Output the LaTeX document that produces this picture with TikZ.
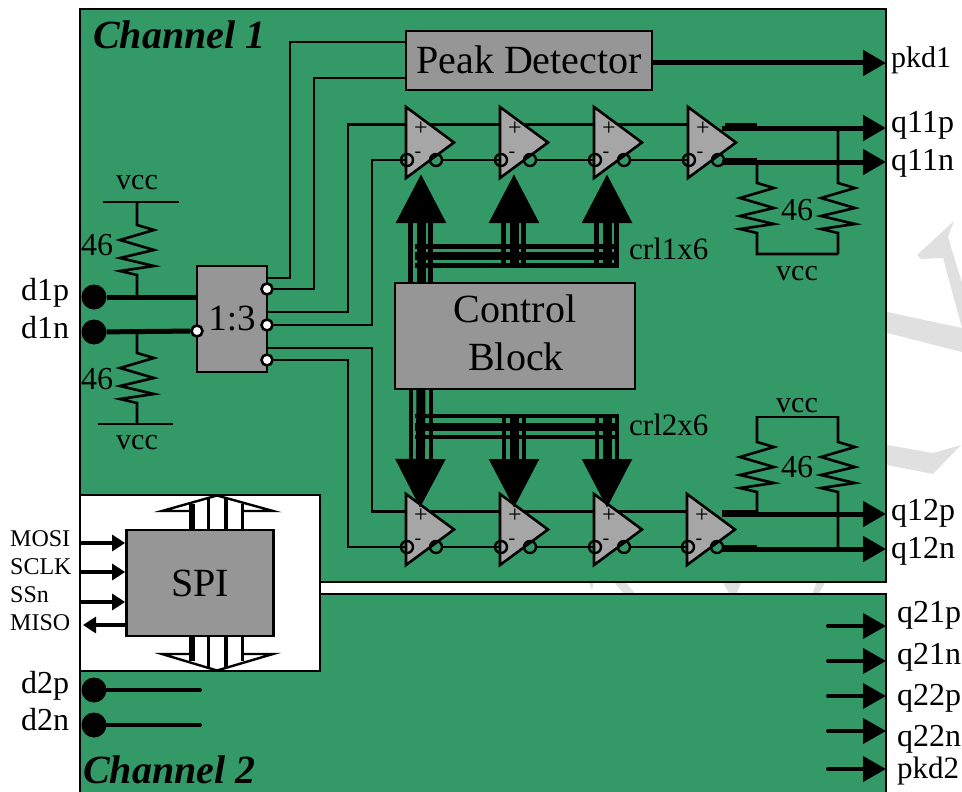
\documentclass[tikz,border=0pt]{standalone}
\usepackage{fontspec}
\setmainfont{Liberation Serif}
\usetikzlibrary{arrows.meta,calc}
\definecolor{chgreen}{RGB}{51,153,102}
\definecolor{blockgray}{RGB}{150,150,150}
\definecolor{ampgray}{RGB}{166,166,166}
\definecolor{markgray}{RGB}{224,224,224}
\newcommand{\sz}[1]{\fontsize{#1}{#1}\selectfont}
\tikzset{
    wire/.style={line width=2.6pt,line join=miter},
    thickwire/.style={line width=5pt},
    block/.style={draw,line width=2.8pt,fill=blockgray,inner sep=0pt},
    lbl/.style={anchor=base west,inner sep=0pt,text=black},
    bubble/.style={circle,draw,line width=2.6pt,fill=white,inner sep=0pt,minimum size=11pt},
    obubble/.style={circle,draw,line width=2.4pt,inner sep=0pt,minimum size=12pt},
    pad/.style={circle,fill=black,inner sep=0pt,minimum size=25pt},
    bigarrow/.style={line width=9pt,-{Triangle[length=49pt,width=48pt]}},
    outarrow/.style={line width=5pt,-{Triangle[length=23pt,width=25pt]}},
    spiarrow/.style={line width=4pt,-{Triangle[length=13pt,width=16pt]}},
}
% one zigzag of a resistor, 50 high
\newcommand{\zz}{-- ++(17,5) -- ++(-34,10) -- ++(34,10) -- ++(-34,8) -- ++(34,8) -- ++(-34,5) -- ++(17,4)}
% amplifier: name, x of left side, y of top corner
\newcommand{\ampl}[3]{
    \draw[line width=2.6pt,fill=ampgray,line join=miter] (#2,#3) -- ++(0,71) -- ++(48,-35.5) -- cycle;
    \node[inner sep=0pt] (#1plus) at (#2+15,#3+22) {\sz{24}+};
    \node[inner sep=0pt] (#1minus) at (#2+12,#3+48) {\sz{20}-};
    \node[obubble] (#1in) at (#2+1,#3+53) {};
    \node[obubble] (#1out) at (#2+30,#3+53) {};
    \coordinate (#1ip) at (#2,#3+17.5);
    \coordinate (#1op) at (#2+24,#3+17.5);
}
\begin{document}
\begin{tikzpicture}[x=1pt,y=-1pt]
    \useasboundingbox (0,0) rectangle (962,792);
    % watermark
    \fill[markgray] (917,255)--(954,221)--(948,237)--(962,283)--(962,328)--(943,258)--(921,259)--cycle;
    \fill[markgray] (887,312)--(962,328)--(962,352)--(887,333)--cycle;
    \fill[markgray] (887,445)--(933,453)--(961,445)--(933,474)--(887,465)--cycle;
    \fill[markgray] (588,581)--(594,581)--(592,590)--cycle;
    \fill[markgray] (613,581)--(625,581)--(636,595)--(625,595)--cycle;
    \fill[markgray] (722,581)--(742,581)--(736,595)--(730,595)--cycle;
    \fill[markgray] (817,581)--(826,581)--(818,595)--(812,595)--cycle;
    % channels
    \draw[line width=2.8pt,fill=chgreen] (80,9) rectangle (886,582);
    \path[fill=chgreen] (80,594) rectangle (886,792);
    \draw[line width=2.8pt] (80,792) -- (80,594) -- (886,594) -- (886,792);
    \draw[line width=2.8pt,fill=white] (80,495) rectangle (320,671);
    \node[lbl] (ch1) at (93,49) {\sz{40}\bfseries\itshape Channel 1};
    \node[lbl] (ch2) at (83,783) {\sz{40}\bfseries\itshape Channel 2};
    % blocks
    \node[block,minimum width=246pt,minimum height=59pt] (pd) at (529,60.5) {\raisebox{2pt}{\sz{40}Peak Detector}};
    \node[block,minimum width=70pt,minimum height=106pt] (split) at (232,319) {\sz{37}1:3};
    \node[block,minimum width=240pt,minimum height=106pt] (ctrl) at (515,336) {};
    \node[inner sep=0pt,anchor=base] (ctrla) at (515,322) {\sz{40}Control};
    \node[inner sep=0pt,anchor=base] (ctrlb) at (516,370) {\sz{40}Block};
    \node[block,minimum width=147pt,minimum height=106pt] (spi) at (200,583) {\sz{40}SPI};
    % splitter outputs
    \node[bubble] (sp1) at (267,289) {};
    \node[bubble] (sp2) at (267,325) {};
    \node[bubble] (sp3) at (267,360) {};
    \node[bubble] (sn) at (197,331) {};
    % amplifiers
    \ampl{a}{406}{107}
    \ampl{b}{500}{107}
    \ampl{c}{594}{107}
    \ampl{d}{688}{107}
    \ampl{e}{406}{494}
    \ampl{f}{500}{494}
    \ampl{g}{594}{494}
    \ampl{h}{687}{494}
    % wires between the stages
    \draw[wire] (aop) -- (bip);
    \draw[wire] (aout) -- (bin.center);
    \draw[wire] (bop) -- (cip);
    \draw[wire] (bout) -- (cin.center);
    \draw[wire] (cop) -- (dip);
    \draw[wire] (cout) -- (din.center);
    \draw[wire] (eop) -- (fip);
    \draw[wire] (eout) -- (fin.center);
    \draw[wire] (fop) -- (gip);
    \draw[wire] (fout) -- (gin.center);
    \draw[wire] (gop) -- (hip);
    \draw[wire] (gout) -- (hin.center);
    % splitter to peak detector and amplifiers
    \draw[wire] (split.east |- 0,278) -- (290,278) |- (pd.west |- 0,42);
    \draw[wire] (sp1) -- (314,289) |- (pd.west |- 0,78);
    \draw[wire] (split.east |- 0,312) -- (348,312) |- (aip);
    \draw[wire] (sp2) -- (372,325) |- (ain.center);
    \draw[wire] (split.east |- 0,348) -- (372,348) |- (eip);
    \draw[wire] (sp3) -- (348,360) |- (ein.center);
    % control buses, top
    \foreach \xx/\ht in {421/283,514/268,607/268}{
        \draw[line width=4.4pt] (\xx-10.5,\ht) -- (\xx-10.5,222);
        \draw[line width=4.4pt] (\xx+9.5,\ht) -- (\xx+9.5,222);
    }
    \coordinate (up1) at (421,174);
    \coordinate (up2) at (514,174);
    \coordinate (up3) at (607,174);
    \draw[bigarrow] (up1 |- ctrl.north) -- (up1);
    \draw[bigarrow] (514,268) -- (up2);
    \draw[bigarrow] (607,268) -- (up3);
    \draw[line width=4.4pt] (415,246.5) -- (619,246.5);
    \draw[line width=8pt] (415,256) -- (619,256);
    \draw[line width=4.6pt] (415,265.5) -- (619,265.5);
    \node[lbl] (crl1) at (629,259) {\sz{31}crl1x6};
    % control buses, bottom
    \foreach \xx/\ht in {421/389,514/415,607/415}{
        \draw[line width=4.4pt] (\xx-10,\ht) -- (\xx-10,462);
        \draw[line width=4.4pt] (\xx+10,\ht) -- (\xx+10,462);
    }
    \coordinate (dn1) at (420,508);
    \coordinate (dn2) at (514,508);
    \coordinate (dn3) at (607,508);
    \draw[bigarrow] (421,389) -- (dn1);
    \draw[bigarrow] (514,415) -- (dn2);
    \draw[bigarrow] (607,415) -- (dn3);
    \draw[line width=4.4pt] (415,416) -- (619,416);
    \draw[line width=8pt] (415,426.5) -- (619,426.5);
    \draw[line width=4.6pt] (415,437) -- (619,437);
    \node[lbl] (crl2) at (629,435) {\sz{31}crl2x6};
    % inputs
    \node[pad] (d1p) at (94,297) {};
    \node[pad] (d1n) at (94,332) {};
    \node[pad] (d2p) at (94,690) {};
    \node[pad] (d2n) at (94,725) {};
    \node[lbl] (d1plbl) at (21,300) {\sz{32}d1p};
    \node[lbl] (d1nlbl) at (21,338) {\sz{32}d1n};
    \node[lbl] (d2plbl) at (21,693) {\sz{32}d2p};
    \node[lbl] (d2nlbl) at (21,730) {\sz{32}d2n};
    \draw[thickwire] (d1p) -- (split.west |- d1p);
    \draw[thickwire] (d1n) -- (sn);
    \draw[line width=4pt,line cap=round] (d2p) -- (200,690);
    \draw[line width=4pt,line cap=round] (d2n) -- (200,725);
    % input resistors
    \draw[wire] (103,202) -- (179,202);
    \draw[wire] (137,202) -- ++(0,23) \zz -- (137,297);
    \draw[wire] (137,332) -- ++(0,21) \zz -- (137,424);
    \draw[wire] (98,424) -- (173,424);
    \node[lbl] (vcc1) at (116,189) {\sz{30}vcc};
    \node[lbl] (vcc2) at (116,449) {\sz{30}vcc};
    \node[lbl] (r1) at (81,255) {\sz{32}46};
    \node[lbl] (r2) at (81,389) {\sz{32}46};
    % outputs, top
    \draw[line width=3.6pt] (725,125) -- (757,125);
    \draw[line width=3.6pt] (725,160) -- (757,160);
    \draw[outarrow] (722,128) -- (886,128);
    \draw[outarrow] (722,162) -- (886,162);
    \draw[outarrow] (pd.east |- 0,63) -- (886,63);
    \draw[wire] (757,162) -- ++(0,21) \zz -- (757,254) -- (838,254);
    \draw[wire] (838,128) -- (838,183) \zz -- (838,254);
    \node[lbl] (r3) at (781,220) {\sz{32}46};
    \node[lbl] (vcc3) at (776,280) {\sz{30}vcc};
    \node[lbl] (pkd1) at (891,67) {\sz{30}pkd1};
    \node[lbl] (q11p) at (891,132) {\sz{32}q11p};
    \node[lbl] (q11n) at (891,170) {\sz{32}q11n};
    % outputs, bottom
    \draw[line width=4.8pt] (722,512) -- (757,512);
    \draw[line width=3.6pt] (722,547) -- (757,547);
    \draw[outarrow] (722,514) -- (886,514);
    \draw[outarrow] (722,549) -- (886,549);
    \draw[wire] (757,417) -- (838,417);
    \draw[wire] (757,416) -- ++(0,26) \zz -- (757,512);
    \draw[wire] (838,416) -- ++(0,26) \zz -- (838,549);
    \node[lbl] (r4) at (781,477) {\sz{32}46};
    \node[lbl] (vcc4) at (776,412) {\sz{30}vcc};
    \node[lbl] (q12p) at (891,520) {\sz{32}q12p};
    \node[lbl] (q12n) at (891,558) {\sz{32}q12n};
    % channel 2 outputs
    \foreach \yy/\tt/\by/\fs in {626/q21p/622/32,661/q21n/664/32,696/q22p/705/32,731/q22n/746/32,769/pkd2/778/31}{
        \draw[line width=4pt,line cap=round,-{Triangle[length=23pt,width=25pt]}] (828,\yy) -- (886,\yy);
        \node[lbl] (\tt) at (897,\by) {\sz{\fs}\tt};
    }
    % spi
    \node[lbl] (mosi) at (10,546) {\sz{24}MOSI};
    \node[lbl] (sclk) at (10,574) {\sz{24}SCLK};
    \node[lbl] (ssn) at (10,602) {\sz{24}SSn};
    \node[lbl] (miso) at (10,630) {\sz{24}MISO};
    \draw[spiarrow] (80,543) -- (spi.west |- 0,543);
    \draw[spiarrow] (80,572) -- (spi.west |- 0,572);
    \draw[spiarrow] (80,602) -- (spi.west |- 0,602);
    \draw[spiarrow] (spi.west |- 0,625) -- (83,625);
    % spi wide arrows
    \draw[line width=2.4pt,line join=miter] (191,511) -- (162,511) -- (217,495.5) -- (273,511) -- (243,511);
    \draw[line width=2.4pt,line join=miter] (191,654) -- (162,654) -- (217,670.5) -- (273,654) -- (243,654);
    \draw[line width=6pt] (191.5,530) -- (191.5,504);
    \draw[line width=3.6pt] (208.5,530) -- (208.5,497);
    \draw[line width=4.8pt] (226,530) -- (226,497);
    \draw[line width=3.6pt] (242.5,530) -- (242.5,504);
    \draw[line width=6pt] (191.5,636) -- (191.5,661);
    \draw[line width=3.6pt] (208.5,636) -- (208.5,668);
    \draw[line width=4.8pt] (226,636) -- (226,668);
    \draw[line width=3.6pt] (242.5,636) -- (242.5,661);
\end{tikzpicture}
\end{document}
